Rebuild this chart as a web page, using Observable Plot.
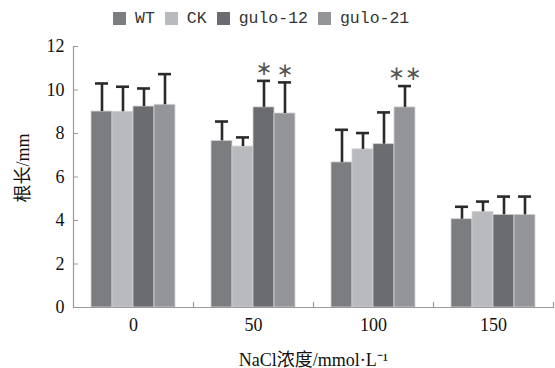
<!DOCTYPE html>
<html>
<head>
<meta charset="utf-8">
<script src="https://cdn.jsdelivr.net/npm/d3@7"></script>
<script src="https://cdn.jsdelivr.net/npm/@observablehq/plot@0.6"></script>
<style>
  html, body { margin: 0; padding: 0; background: #fff; }
  #legend { height: 30px; box-sizing: border-box; padding-top: 7px; padding-left: 113px;
    display: flex; align-items: center; font-family: "Liberation Mono", "DejaVu Sans Mono", monospace;
    font-size: 16.5px; color: #333; }
  #legend .item { display: flex; align-items: center; margin-right: 10px; }
  #legend .sw { width: 13px; height: 13px; margin-right: 9px; }
</style>
</head>
<body>
<div id="legend"></div>
<div id="chart"></div>
<script>
// ---- data ----
const groups = [0, 50, 100, 150];                 // NaCl concentration (mmol/L)
const series = ["WT", "CK", "gulo-12", "gulo-21"];
const colors = ["#7c7d81", "#b9babe", "#6b6c70", "#949599"];
const meanWT    = [9.01, 7.66, 6.67, 4.06];
const meanCK    = [9.00, 7.40, 7.27, 4.40];
const meanG12   = [9.24, 9.20, 7.51, 4.26];
const meanG21   = [9.32, 8.92, 9.20, 4.26];
const sdWT      = [1.29, 0.89, 1.50, 0.57];
const sdCK      = [1.15, 0.42, 0.75, 0.47];
const sdG12     = [0.83, 1.22, 1.46, 0.84];
const sdG21     = [1.41, 1.43, 0.98, 0.84];
const sigGroup  = [50, 50, 100];
const sigSeries = ["gulo-12", "gulo-21", "gulo-21"];
const sigLabel  = ["∗", "∗", "∗∗"];
const yTicks    = [0, 2, 4, 6, 8, 10, 12];
const yLabel = "根长/mm";
const xLabel = "NaCl浓度/mmol·L⁻¹";

const means = [meanWT, meanCK, meanG12, meanG21];
const sds = [sdWT, sdCK, sdG12, sdG21];
const data = [];
groups.forEach((g, gi) => series.forEach((s, si) => {
  data.push({group: g, series: s, mean: means[si][gi], top: means[si][gi] + sds[si][gi]});
}));
const sig = sigGroup.map((g, i) => {
  const d = data.find(r => r.group === g && r.series === sigSeries[i]);
  return {group: g, series: sigSeries[i], top: d.top, label: sigLabel[i]};
});

// legend
const legend = document.getElementById("legend");
series.forEach((s, i) => {
  const it = document.createElement("div");
  it.className = "item";
  it.innerHTML = `<span class="sw" style="background:${colors[i]}"></span><span>${s}</span>`;
  legend.appendChild(it);
});

const H = 338, MT = 16, MB = 61;
const axisColor = "#9a9a9a";
const plot = Plot.plot({
  width: 555,
  height: H,
  marginTop: MT,
  marginBottom: MB,
  marginLeft: 72,
  marginRight: 2,
  style: {fontFamily: "'Liberation Serif', 'Noto Sans CJK SC', serif", color: "#111", background: "#fff"},
  fx: {domain: groups, padding: 0, label: null, axis: null},
  x: {domain: series, paddingInner: 0, paddingOuter: 0.8, axis: null},
  y: {domain: [0, 12], axis: null},
  color: {domain: series, range: colors},
  marks: [
    Plot.barY(data, {fx: "group", x: "series", y: "mean", fill: "series", stroke: "#d4d4d6", strokeWidth: 0.8}),
    Plot.ruleX(data, {fx: "group", x: "series", y1: "mean", y2: "top", stroke: "#2a2a2a", strokeWidth: 2.6}),
    Plot.tickY(data, {fx: "group", x: "series", y: "top", stroke: "#2a2a2a", strokeWidth: 2.6, insetLeft: 4, insetRight: 4}),
    Plot.text(sig, {fx: "group", x: "series", y: "top", text: "label", dy: -12, fontSize: 20,
      fill: "#555", fontFamily: "'DejaVu Sans'", letterSpacing: "-2px"}),
    Plot.ruleY([0], {stroke: axisColor, strokeWidth: 1.2}),
    Plot.frame({anchor: "left", facetAnchor: "left", stroke: axisColor, strokeWidth: 1.2}),
    Plot.frame({anchor: "right", insetTop: H - MT - MB - 5, stroke: axisColor, strokeWidth: 1.2}),
    Plot.axisY({ticks: yTicks, tickSize: -5, tickPadding: 14, stroke: axisColor, fontSize: 18, label: null}),
    Plot.text([yLabel], {frameAnchor: "left", facetAnchor: "left", rotate: -90, dx: -50, dy: -9,
      textAnchor: "middle", lineAnchor: "middle", fontSize: 18}),
    Plot.axisFx({anchor: "bottom", tickSize: 0, tickPadding: 11, fontSize: 18,
      label: xLabel, labelArrow: "none", labelAnchor: "center", labelOffset: 58})
  ]
});
document.getElementById("chart").appendChild(plot);
</script>
</body>
</html>
